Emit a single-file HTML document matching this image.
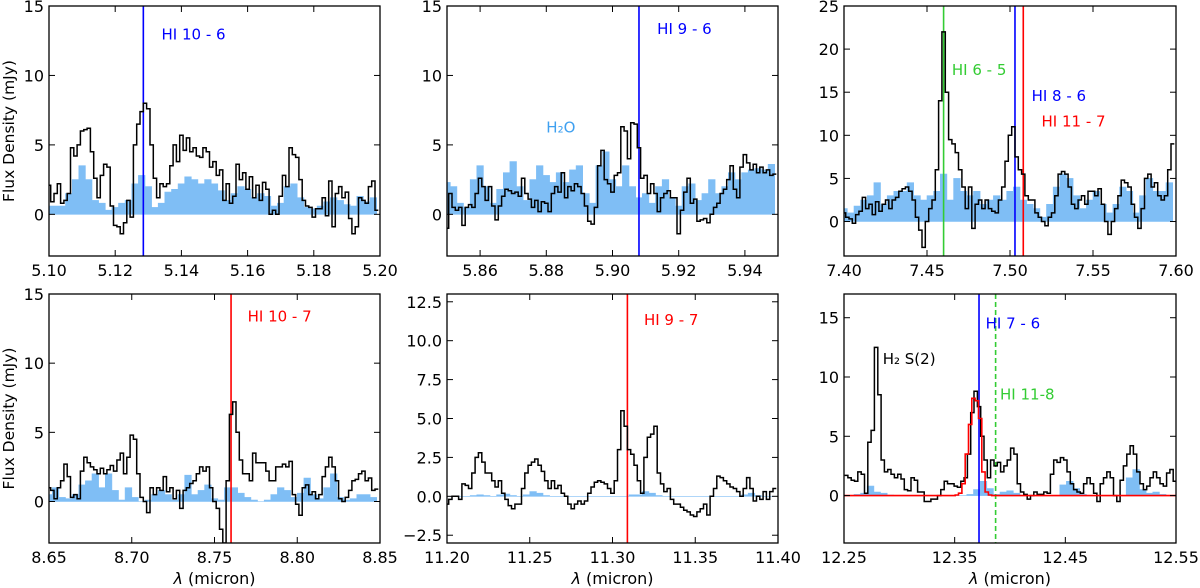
<!DOCTYPE html>
<html><head><meta charset="utf-8">
<style>
body{margin:0;background:#fff;}
svg{display:block;font-family:"DejaVu Sans","Liberation Sans",sans-serif;}
</style></head>
<body>
<svg id="fig" width="1200" height="588" viewBox="0 0 1200 588"></svg>
<script>
// ---- Panel 1 data (5.10-5.20) ----
const p1Start = 5.100, p1Step = 0.001;
const p1Flux = [2.1,0.9,1.5,2.2,0.8,1.0,1.5,4.8,4.2,5.0,6.0,6.1,6.2,4.5,2.6,1.2,2.8,3.6,3.4,0.6,-0.8,-0.9,-1.4,-0.6,1.0,-0.2,5.0,6.5,7.4,8.0,7.6,5.0,2.6,1.2,2.2,2.0,2.2,3.5,5.0,3.8,5.7,4.6,5.5,4.5,4.8,4.2,4.1,4.8,4.5,3.4,3.8,2.8,3.2,1.0,2.2,0.8,1.3,3.6,2.5,3.0,1.8,2.7,1.2,2.1,1.0,2.3,1.8,0.0,0.3,0.0,1.3,2.8,2.0,4.8,4.3,4.1,2.5,1.0,0.6,0.5,-0.2,0.4,0.4,1.2,-0.1,2.4,-0.9,1.5,2.0,1.2,1.6,-0.3,-1.4,-0.9,1.2,1.0,0.8,2.0,2.4,0.3];
const p1ModelStart = 5.100, p1ModelStep = 0.002;
const p1Model = [0.6,0.6,0.6,1.5,2.5,3.5,2.5,1.0,0.8,0.3,0.5,0.8,1.0,2.2,2.8,2.0,0.5,0.8,1.6,1.8,2.2,2.7,2.5,2.2,2.5,2.2,1.7,1.0,1.5,2.0,1.8,1.2,1.5,1.3,0.6,0.8,2.0,2.2,1.2,0.5,0.4,0.6,0.9,1.2,1.0,0.7,0.6,1.3,0.9,1.2];
// ---- Panel 2 data (5.85-5.95) ----
const p2Start = 5.850, p2Step = 0.001;
const p2Flux = [-1.0,1.5,0.5,0.3,0.5,-0.8,0.5,0.7,0.5,1.5,2.6,2.0,1.0,2.0,0.6,-0.4,0.6,1.3,1.8,1.7,1.5,1.6,1.3,2.6,1.5,1.1,0.5,1.0,0.2,0.9,0.8,0.2,1.5,2.0,1.6,3.0,1.2,2.0,1.7,2.2,2.0,1.5,0.6,-0.5,-0.7,0.5,3.5,4.6,2.5,2.2,1.6,2.8,3.0,6.3,6.0,4.0,6.6,6.5,4.8,2.6,2.8,1.5,2.2,1.5,0.2,1.2,1.5,1.7,1.2,1.2,-1.4,0.3,1.6,2.6,0.8,1.1,-0.5,-0.4,-0.3,-0.6,0.0,0.5,0.8,1.5,1.8,2.5,3.5,1.8,1.2,3.4,4.3,3.7,3.2,3.6,3.0,3.4,3.0,3.2,2.8,2.9];
const p2ModelStart = 5.850, p2ModelStep = 0.002;
const p2Model = [2.3,2.0,0.8,0.5,2.5,3.5,2.0,0.8,1.8,3.0,3.8,2.0,1.0,2.5,3.5,2.8,2.3,3.0,2.3,3.2,3.5,1.5,0.8,3.5,4.5,2.5,2.0,3.5,2.0,1.2,1.5,0.8,2.0,2.5,1.2,0.6,2.0,2.2,1.0,1.5,2.5,1.5,2.0,3.0,2.5,3.0,3.2,3.3,3.2,3.6];
// ---- Panel 3 data (7.40-7.60) ----
const p3Start = 7.400, p3Step = 0.002;
const p3Flux = [1.0,0.5,0.3,-0.2,0.8,1.2,2.8,1.5,2.0,0.8,2.3,1.2,2.0,2.5,1.5,2.5,2.8,3.5,3.8,4.0,3.5,2.5,0.5,-1.0,-3.0,0.0,1.5,2.5,6.0,14.0,22.0,15.0,9.5,9.0,8.0,6.0,4.0,1.5,4.0,-0.8,2.0,2.5,1.5,2.5,1.5,1.2,1.0,2.5,4.0,7.0,10.0,11.0,7.5,6.0,5.5,3.0,2.5,2.5,1.0,0.5,0.0,-0.5,0.5,1.0,3.0,5.5,5.8,5.5,4.0,2.0,1.5,2.5,3.0,2.0,3.5,3.5,3.0,3.8,2.0,0.0,-1.5,0.0,1.5,3.0,4.8,4.5,4.0,2.0,0.5,-0.8,1.5,5.0,5.5,4.0,4.5,3.0,2.5,3.0,6.0,9.0];
const p3ModelStart = 7.400, p3ModelStep = 0.004;
const p3Model = [1.5,1.0,1.8,2.5,3.0,4.5,2.0,3.0,3.5,3.5,4.5,3.0,2.5,3.0,3.5,5.5,2.5,5.0,3.5,3.0,3.5,2.0,2.5,3.0,2.5,3.5,4.0,2.5,2.0,1.5,0.5,2.0,4.0,5.5,5.0,3.0,1.5,2.5,3.5,2.0,1.0,2.0,4.0,3.5,1.0,3.0,5.0,3.5,3.5,4.5];
// ---- Panel 4 data (8.65-8.85) ----
const p4Start = 8.650, p4Step = 0.002;
const p4Flux = [1.0,0.8,0.2,1.0,1.5,2.7,1.8,0.3,0.5,0.2,2.2,3.2,2.8,2.5,2.3,2.0,2.4,2.0,2.3,2.6,2.2,3.0,3.5,2.0,3.2,4.8,4.5,2.0,0.3,0.0,-0.8,1.0,0.5,1.0,0.8,1.8,0.7,1.0,0.2,0.8,-0.5,0.8,1.0,1.3,1.5,2.0,2.5,2.2,2.5,1.0,0.0,-0.5,-2.0,-3.0,1.5,6.3,7.2,5.0,3.0,2.0,2.0,1.5,3.5,2.8,2.8,2.8,2.2,1.5,1.5,2.5,2.5,2.7,2.5,2.9,0.5,-0.2,-1.0,1.0,1.2,0.5,0.7,0.2,0.5,1.8,2.5,3.2,2.5,1.5,0.2,0.0,0.3,0.8,1.5,1.6,2.0,2.2,1.5,1.7,0.8,0.9];
const p4ModelStart = 8.650, p4ModelStep = 0.004;
const p4Model = [0.5,1.0,0.3,0.2,0.5,1.2,1.5,2.0,1.0,2.0,0.8,0.1,1.0,0.3,0.0,0.1,0.5,0.8,0.5,0.1,0.5,1.9,0.5,0.8,1.2,0.2,0.1,1.0,1.0,0.6,0.3,0.1,0.0,0.1,0.5,1.0,0.8,0.3,0.6,1.7,0.5,0.2,1.0,2.0,0.3,0.1,0.2,0.5,0.5,0.3];
// ---- Panel 5 data (11.20-11.40) ----
const p5Start = 11.200, p5Step = 0.002;
const p5Flux = [-0.5,-0.2,0.0,0.0,-0.2,0.8,0.7,0.5,1.5,2.5,2.8,2.2,1.5,1.5,1.0,0.6,1.0,0.2,-0.2,-0.6,-0.8,-0.5,-0.5,0.5,1.5,2.0,2.2,2.4,2.0,1.6,1.0,0.5,1.0,0.5,0.7,0.2,0.0,-0.5,-0.8,-0.5,-0.3,-0.5,-0.3,0.2,0.6,0.9,1.0,0.9,0.8,0.5,0.2,1.0,3.0,5.5,4.5,3.0,2.7,2.0,1.0,0.2,2.5,3.8,4.0,4.5,1.5,0.8,0.3,0.5,-0.2,-0.5,-0.5,-0.7,-0.9,-1.0,-1.2,-1.3,-1.0,-0.8,-0.5,-1.2,0.0,0.5,1.3,1.2,1.0,0.8,0.6,0.5,0.3,0.0,0.5,1.2,0.5,-0.3,0.0,-0.2,0.3,-0.2,0.3,0.5];
const p5ModelStart = 11.200, p5ModelStep = 0.004;
const p5Model = [0,0,0,0,0.05,0.1,0.05,0,0.1,0.15,0.05,0,0.1,0.3,0.2,0.05,0,0,0,0,0,0,0,0,0,0,0,0,0.1,0.1,0.3,0.2,0.05,0,0,0,0,0,0,0,0,0,0,0,0,0.1,0.2,0.05,0,0];
// ---- Panel 6 data (12.25-12.55) ----
const p6Start = 12.252, p6Step = 0.003;
const p6Flux = [1.7,1.5,1.3,1.2,2.0,1.8,0.2,4.5,5.5,12.5,8.5,3.0,2.0,2.2,1.8,1.5,1.8,1.4,0.5,0.4,1.5,1.3,0.3,0.3,-0.5,-0.5,-0.3,-0.3,0.0,0.5,1.2,1.0,1.0,0.8,0.7,1.2,1.5,3.5,7.0,8.8,7.5,5.0,3.0,1.5,3.0,2.5,2.8,2.0,2.5,3.0,4.0,3.5,1.0,0.3,0.1,-0.3,0.0,0.3,0.1,0.1,0.3,0.2,1.8,3.0,2.8,3.2,3.0,2.0,1.0,0.5,0.3,0.2,1.0,1.5,1.0,0.2,-0.5,1.0,1.5,2.0,1.5,0.0,-0.5,1.3,2.5,3.5,4.2,3.5,2.0,1.0,0.5,0.8,1.5,2.0,1.5,1.0,0.8,1.9,2.2,1.2];
const p6ModelStart = 12.250, p6ModelStep = 0.006;
const p6Model = [0,0,0.1,0.2,0.8,0.3,0.2,0.05,0,0,0,0,0,0,0,0,0,0,0,0.1,0.5,1.2,0.6,0.1,0.3,0.4,0.2,0,0,0,0,0,0,0.9,1.2,0.6,0.1,0,0,0,0,0,0,1.5,2.2,0.5,0.2,0.3,0.1,0,0];
const p6FitStart = 12.352, p6FitStep = 0.003;
const p6Fit = [0.05,0.2,1.0,3.5,6.0,8.2,8.0,6.5,2.0,0.3,0.05];

const NS = "http://www.w3.org/2000/svg";
const svg = document.getElementById('fig');
function mk(tag, attrs, parent){
  const e = document.createElementNS(NS, tag);
  for (const k in attrs) e.setAttribute(k, attrs[k]);
  (parent||svg).appendChild(e);
  return e;
}

const panels = [
  {id:'p1', x0:49, y0:6, w:331, h:250, xmin:5.10, xmax:5.20, ymin:-3, ymax:15,
   xt:[5.10,5.12,5.14,5.16,5.18,5.20], xd:2, yt:[0,5,10,15], yd:0, ylabel:true, xlabel:false,
   fs:p1Start, fst:p1Step, f:p1Flux, ms:p1ModelStart, mst:p1ModelStep, m:p1Model,
   lines:[{x:5.1285,c:'#0000ff'}],
   labels:[{t:'HI 10 - 6',x:5.134,y:12.6,c:'#0000ff'}]},
  {id:'p2', x0:447, y0:6, w:331, h:250, xmin:5.85, xmax:5.95, ymin:-3, ymax:15,
   xt:[5.86,5.88,5.90,5.92,5.94], xd:2, yt:[0,5,10,15], yd:0,
   fs:p2Start, fst:p2Step, f:p2Flux, ms:p2ModelStart, mst:p2ModelStep, m:p2Model,
   lines:[{x:5.908,c:'#0000ff'}],
   labels:[{t:'HI 9 - 6',x:5.9135,y:13,c:'#0000ff'},{t:'H\u2082O',x:5.880,y:5.9,c:'#3fa0f0'}]},
  {id:'p3', x0:844, y0:6, w:332, h:250, xmin:7.40, xmax:7.60, ymin:-4, ymax:25,
   xt:[7.40,7.45,7.50,7.55,7.60], xd:2, yt:[0,5,10,15,20,25], yd:0,
   fs:p3Start, fst:p3Step, f:p3Flux, ms:p3ModelStart, mst:p3ModelStep, m:p3Model,
   lines:[{x:7.460,c:'#33cc33'},{x:7.503,c:'#0000ff'},{x:7.508,c:'#ff0000'}],
   labels:[{t:'HI 6 - 5',x:7.465,y:17,c:'#33cc33'},{t:'HI 8 - 6',x:7.513,y:14,c:'#0000ff'},{t:'HI 11 - 7',x:7.519,y:11,c:'#ff0000'}]},
  {id:'p4', x0:49, y0:294, w:331, h:249, xmin:8.65, xmax:8.85, ymin:-3, ymax:15,
   xt:[8.65,8.70,8.75,8.80,8.85], xd:2, yt:[0,5,10,15], yd:0, ylabel:true, xlabel:true,
   fs:p4Start, fst:p4Step, f:p4Flux, ms:p4ModelStart, mst:p4ModelStep, m:p4Model,
   lines:[{x:8.760,c:'#ff0000'}],
   labels:[{t:'HI 10 - 7',x:8.770,y:13,c:'#ff0000'}]},
  {id:'p5', x0:447, y0:294, w:331, h:249, xmin:11.20, xmax:11.40, ymin:-3, ymax:13,
   xt:[11.20,11.25,11.30,11.35,11.40], xd:2, yt:[-2.5,0,2.5,5,7.5,10,12.5], yd:1, xlabel:true,
   fs:p5Start, fst:p5Step, f:p5Flux, ms:p5ModelStart, mst:p5ModelStep, m:p5Model,
   lines:[{x:11.309,c:'#ff0000'}],
   labels:[{t:'HI 9 - 7',x:11.319,y:11,c:'#ff0000'}]},
  {id:'p6', x0:844, y0:294, w:332, h:249, xmin:12.25, xmax:12.55, ymin:-4, ymax:17,
   xt:[12.25,12.35,12.45,12.55], xd:2, yt:[0,5,10,15], yd:0, xlabel:true,
   fs:p6Start, fst:p6Step, f:p6Flux, ms:p6ModelStart, mst:p6ModelStep, m:p6Model,
   fit:true,
   lines:[{x:12.372,c:'#0000ff'},{x:12.387,c:'#33cc33',dash:true}],
   labels:[{t:'H\u2082 S(2)',x:12.285,y:11.1,c:'#000000'},{t:'HI 7 - 6',x:12.378,y:14.1,c:'#0000ff'},{t:'HI 11-8',x:12.391,y:8.1,c:'#33cc33'}]}
];

function stepPath(start, step, vals, X, Y){
  let d = '';
  vals.forEach((v,i)=>{
    const xa = X(start + (i-0.5)*step), xb = X(start + (i+0.5)*step), y = Y(v);
    d += (i===0 ? 'M'+xa.toFixed(1)+','+y.toFixed(1) : 'L'+xa.toFixed(1)+','+y.toFixed(1)) + 'L'+xb.toFixed(1)+','+y.toFixed(1);
  });
  return d;
}

panels.forEach(p=>{
  const X = v => p.x0 + (v - p.xmin)/(p.xmax - p.xmin)*p.w;
  const Y = v => p.y0 + p.h - (v - p.ymin)/(p.ymax - p.ymin)*p.h;
  const g = mk('g', {});
  
  
  const cid = 'clip-' + p.id;
  const cp = mk('clipPath', {id:cid}, g);
  mk('rect', {x:p.x0, y:p.y0, width:p.w, height:p.h}, cp);
  const plot = mk('g', {'clip-path':'url(#'+cid+')'}, g);

  let d = stepPath(p.ms, p.mst, p.m, X, Y);
  const y0 = Y(0);
  const xa = X(p.ms - 0.5*p.mst), xb = X(p.ms + (p.m.length-0.5)*p.mst);
  const fill = mk('path', {d: d + 'L'+xb.toFixed(1)+','+y0.toFixed(1)+'L'+xa.toFixed(1)+','+y0.toFixed(1)+'Z', fill:'#7fbef5', stroke:'#7fbef5', 'stroke-width':0.6}, plot);
  
  

  p.lines.forEach((l,i)=>{
    const ln = mk('line', {x1:X(l.x), x2:X(l.x), y1:p.y0, y2:p.y0+p.h, stroke:l.c, 'stroke-width':1.6}, plot);
    if (l.dash) ln.setAttribute('stroke-dasharray', '5,3');
    
    
  });

  const fl = mk('path', {d: stepPath(p.fs, p.fst, p.f, X, Y), fill:'none', stroke:'#000', 'stroke-width':1.5, 'stroke-linejoin':'miter'}, plot);
  
  

  if (p.fit){
    const fitD = 'M'+p.x0+','+Y(0).toFixed(1)+'L'+X(p6FitStart-0.5*p6FitStep).toFixed(1)+','+Y(0).toFixed(1)+stepPath(p6FitStart, p6FitStep, p6Fit, X, Y).replace(/^M/,'L')+'L'+X(p6FitStart+(p6Fit.length-0.5)*p6FitStep).toFixed(1)+','+Y(0).toFixed(1)+'L'+(p.x0+p.w)+','+Y(0).toFixed(1);
    const ft = mk('path', {d:fitD, fill:'none', stroke:'#ff0000', 'stroke-width':1.6}, plot);
    
    
  }

  p.labels.forEach((l,i)=>{
    const t = mk('text', {x:X(l.x), y:Y(l.y), fill:l.c, 'font-size':15}, g);
    t.textContent = l.t;
    
    
  });

  const fr = mk('rect', {x:p.x0, y:p.y0, width:p.w, height:p.h, fill:'none', stroke:'#000', 'stroke-width':1.3}, g);
  
  

  p.xt.forEach(v=>{
    const x = X(v);
    mk('line', {x1:x, x2:x, y1:p.y0+p.h, y2:p.y0+p.h-6, stroke:'#000', 'stroke-width':1}, g);
    mk('line', {x1:x, x2:x, y1:p.y0, y2:p.y0+6, stroke:'#000', 'stroke-width':1}, g);
    const t = mk('text', {x:x, y:p.y0+p.h+20, 'text-anchor':'middle', 'font-size':16, fill:'#000'}, g);
    t.textContent = v.toFixed(p.xd);
    
    
  });
  p.yt.forEach(v=>{
    const y = Y(v);
    mk('line', {x1:p.x0, x2:p.x0+6, y1:y, y2:y, stroke:'#000', 'stroke-width':1}, g);
    mk('line', {x1:p.x0+p.w, x2:p.x0+p.w-6, y1:y, y2:y, stroke:'#000', 'stroke-width':1}, g);
    const t = mk('text', {x:p.x0-5, y:y+6, 'text-anchor':'end', 'font-size':16, fill:'#000'}, g);
    t.textContent = (v<0?'\u2212':'') + Math.abs(v).toFixed(p.yd);
    
    
  });
  if (p.ylabel){
    const cy = p.y0 + p.h/2;
    const t = mk('text', {x:14, y:cy, 'text-anchor':'middle', 'font-size':15.5, fill:'#000', transform:'rotate(-90 14 '+cy+')'}, g);
    t.textContent = 'Flux Density (mJy)';
    
    
  }
  if (p.xlabel){
    const t = mk('text', {x:p.x0+p.w/2, y:584, 'text-anchor':'middle', 'font-size':16, fill:'#000'}, g);
    const ts = mk('tspan', {'font-style':'italic'}, t);
    ts.textContent = '\u03bb';
    t.appendChild(document.createTextNode(' (micron)'));
    
    
  }
});
</script>
</body></html>
